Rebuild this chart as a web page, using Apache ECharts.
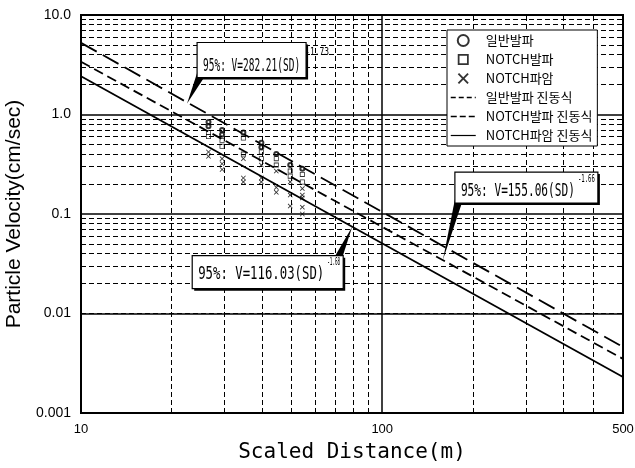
<!DOCTYPE html>
<html>
<head>
<meta charset="utf-8">
<script src="https://cdn.jsdelivr.net/npm/echarts@6/dist/echarts.min.js"></script>
<style>
html, body { margin: 0; padding: 0; background: #fff; }
#chart { width: 635px; height: 468px; }
</style>
</head>
<body>
<div id="chart"></div>
<script>
// measured points [scaled distance, velocity]
const generalBlast = [[26.5,0.84],[26.5,0.76],[29.4,0.70],[29.4,0.63],[34.6,0.66],[39.7,0.52],[39.7,0.47],[44.5,0.40],[49.5,0.31],[54.3,0.285]]
const notchBlast = [[26.5,0.66],[26.5,0.60],[29.4,0.55],[29.4,0.48],[34.6,0.58],[34.6,0.40],[39.7,0.42],[39.7,0.36],[44.5,0.36],[44.5,0.31],[49.5,0.27],[49.5,0.24],[54.3,0.25],[54.3,0.21]]
const notchRock = [[26.5,0.42],[26.5,0.38],[29.4,0.36],[29.4,0.32],[29.4,0.28],[34.6,0.36],[34.6,0.23],[34.6,0.21],[39.7,0.31],[39.7,0.23],[39.7,0.21],[44.5,0.27],[44.5,0.185],[44.5,0.165],[49.5,0.21],[49.5,0.155],[49.5,0.12],[54.3,0.18],[54.3,0.155],[54.3,0.145],[54.3,0.117],[54.3,0.10]]

// 95% lines, end points at left and right edge
const lineSD = [10, 630]
const generalLineV = [3.39, 0.0035]
const notchBlastLineV = [5.25, 0.0046]
const notchRockLineV = [2.42, 0.0023]

// axes
const xTickLabels = ['10', '100', '500']
const yTickLabels = ['0.001', '0.01', '0.1', '1.0', '10.0']
const minorX = [20, 30, 40, 50, 60, 70, 80, 90, 200, 300, 400, 500]
const minorY = [0.002, 0.003, 0.004, 0.005, 0.006, 0.007, 0.008, 0.009,
    0.02, 0.03, 0.04, 0.05, 0.06, 0.07, 0.08, 0.09,
    0.2, 0.3, 0.4, 0.5, 0.6, 0.7, 0.8, 0.9,
    2, 3, 4, 5, 6, 7, 8, 9]

// callouts: where the pointer touches the line
const annotSD = [22.5, 159, 79.5]
const annotV = [1.29, 0.0344, 0.0745]
const annotText = ['95%: V=282.21(SD)', '95%: V=155.06(SD)', '95%: V=116.03(SD)']
const annotExp = ['-1.73', '-1.66', '-1.68']

// pixel offsets of each callout box from its pointer tip
const annotLayout = [
    { box: [10, -61, 109, 35], text: [16, -37, 97], sup: [118, -51, 24], wedge: 'bl' },
    { box: [12, -88, 143, 31], text: [18, -69, 114], sup: [135, -81, 17], wedge: 'bl' },
    { box: [-160, 29, 151, 33], text: [-154, 48, 126], sup: [-25, 36, 13], wedge: 'tr' }
]

const crossPath = 'path://M0,1.2L1.2,0L5,3.8L8.8,0L10,1.2L6.2,5L10,8.8L8.8,10L5,6.2L1.2,10L0,8.8L3.8,5Z'
const squarePath = 'path://M0,0L10,0L10,10L0,10ZM1.6,1.6L1.6,8.4L8.4,8.4L8.4,1.6Z'

let chart = echarts.init(document.getElementById('chart'))

let gridMarks = minorX.map(v => ({ xAxis: v })).concat(minorY.map(v => ({ yAxis: v })))

// hide the marker dot drawn in the middle of line legend icons
let noDot = { opacity: 0, color: 'rgba(0,0,0,0)', borderColor: 'rgba(0,0,0,0)' }

let option = {
    animation: false,
    backgroundColor: '#fff',
    color: ['#000'],
    textStyle: { fontFamily: '"Liberation Sans", Arial, sans-serif', color: '#000' },
    grid: {
        left: 81, right: 12, top: 15, bottom: 55,
        show: true, borderColor: '#000', borderWidth: 2,
        outerBoundsMode: 'none'
    },
    legend: {
        orient: 'vertical',
        left: 447, top: 30,
        z: 20,
        padding: [4, 5, 4, 3],
        itemGap: 6,
        itemWidth: 25, itemHeight: 11,
        backgroundColor: '#fff',
        borderColor: '#000', borderWidth: 1,
        selectedMode: false,
        textStyle: { fontFamily: '"Noto Sans CJK KR", sans-serif', fontSize: 13, color: '#000', padding: [0, 0, 0, 5] },
        data: [
            { name: '일반발파' },
            { name: 'NOTCH발파' },
            { name: 'NOTCH파암' },
            { name: '일반발파 진동식', itemStyle: noDot, lineStyle: { type: [5, 3], width: 1.5 } },
            { name: 'NOTCH발파 진동식', itemStyle: noDot, lineStyle: { type: [6, 3], width: 1.5 } },
            { name: 'NOTCH파암 진동식', itemStyle: noDot, lineStyle: { width: 1.2 } }
        ]
    },
    xAxis: {
        type: 'log', logBase: 10, min: 10, max: 630,
        name: 'Scaled Distance(m)', nameLocation: 'middle', nameGap: 29,
        nameTextStyle: { fontFamily: '"DejaVu Sans Mono", monospace', fontSize: 21, color: '#000' },
        axisLine: { lineStyle: { color: '#000', width: 2 } },
        axisTick: { show: false },
        axisLabel: {
            formatter: (v, i) => xTickLabels[i], fontSize: 13, color: '#000', margin: 10,
            showMinLabel: true, showMaxLabel: true
        },
        splitLine: { show: true, lineStyle: { color: '#000', width: 1.5 } }
    },
    yAxis: {
        type: 'log', logBase: 10, min: 0.001, max: 10,
        name: 'Particle Velocity(cm/sec)', nameLocation: 'middle', nameGap: 42,
        nameTextStyle: { fontSize: 21, color: '#000' },
        axisLine: { lineStyle: { color: '#000', width: 2 } },
        axisTick: { show: false },
        axisLabel: {
            formatter: (v, i) => yTickLabels[i], fontSize: 14, color: '#000', margin: 10,
            showMinLabel: true, showMaxLabel: true
        },
        splitLine: { show: true, lineStyle: { color: '#000', width: 1.5 } }
    },
    series: [
        {
            name: 'minor grid', type: 'line', data: [], z: 1, silent: true,
            markLine: {
                silent: true, symbol: ['none', 'none'], label: { show: false },
                lineStyle: { color: '#000', type: [5, 3], width: 1 },
                emphasis: { disabled: true },
                data: gridMarks
            }
        },
        {
            name: '일반발파 진동식', type: 'line', symbol: 'none', z: 3,
            data: lineSD.map((x, i) => [x, generalLineV[i]]),
            itemStyle: { color: '#000' },
            lineStyle: { color: '#000', width: 1.8, type: [10, 5] }
        },
        {
            name: 'NOTCH발파 진동식', type: 'line', symbol: 'none', z: 3,
            data: lineSD.map((x, i) => [x, notchBlastLineV[i]]),
            itemStyle: { color: '#000' },
            lineStyle: { color: '#000', width: 1.8, type: [18, 7] }
        },
        {
            name: 'NOTCH파암 진동식', type: 'line', symbol: 'none', z: 3,
            data: lineSD.map((x, i) => [x, notchRockLineV[i]]),
            itemStyle: { color: '#000' },
            lineStyle: { color: '#000', width: 1.8 }
        },
        {
            name: '일반발파', type: 'scatter', symbol: 'emptyCircle', symbolSize: 4, z: 4,
            itemStyle: { color: '#000', borderColor: '#000', borderWidth: 2 },
            data: generalBlast
        },
        {
            name: 'NOTCH발파', type: 'scatter', symbol: squarePath, symbolSize: 5, z: 4,
            itemStyle: { color: '#000' },
            data: notchBlast
        },
        {
            name: 'NOTCH파암', type: 'scatter', symbol: crossPath, symbolSize: 5, z: 4,
            itemStyle: { color: '#000' },
            data: notchRock
        }
    ]
}

chart.setOption(option)

// callout boxes with pointers
let els = []
annotSD.forEach((sd, i) => {
    let p = chart.convertToPixel({ gridIndex: 0 }, [sd, annotV[i]])
    let px = p[0], py = p[1]
    let L = annotLayout[i]
    let bx = px + L.box[0], by = py + L.box[1], bw = L.box[2], bh = L.box[3]
    let wedge
    if (L.wedge === 'bl') {
        wedge = [[px, py], [bx + 0.5, by + bh - 6], [bx + 7, by + bh]]
    } else {
        wedge = [[px, py], [bx + bw - 8, by], [bx + bw - 1, by + 2]]
    }
    els.push({ type: 'polygon', shape: { points: wedge }, style: { fill: '#000' }, z: 10 })
    els.push({ type: 'rect', shape: { x: bx + 2, y: by + 2, width: bw, height: bh }, style: { fill: '#000' }, z: 11 })
    els.push({ type: 'rect', shape: { x: bx, y: by, width: bw, height: bh }, style: { fill: '#fff', stroke: '#000', lineWidth: 1.2 }, z: 12 })
    let txt = annotText[i]
    els.push({
        type: 'text', x: px + L.text[0], y: py + L.text[1], z: 13,
        scaleX: L.text[2] / (txt.length * 0.602 * 17),
        style: { text: txt, font: '17px "DejaVu Sans Mono"', fill: '#000', align: 'left', verticalAlign: 'middle' }
    })
    let sup = annotExp[i]
    els.push({
        type: 'text', x: px + L.sup[0], y: py + L.sup[1], z: 13,
        scaleX: L.sup[2] / (sup.length * 0.602 * 10),
        style: { text: sup, font: '10px "DejaVu Sans Mono"', fill: '#000', align: 'left', verticalAlign: 'middle' }
    })
})
chart.setOption({ graphic: { elements: els } })
</script>
</body>
</html>
